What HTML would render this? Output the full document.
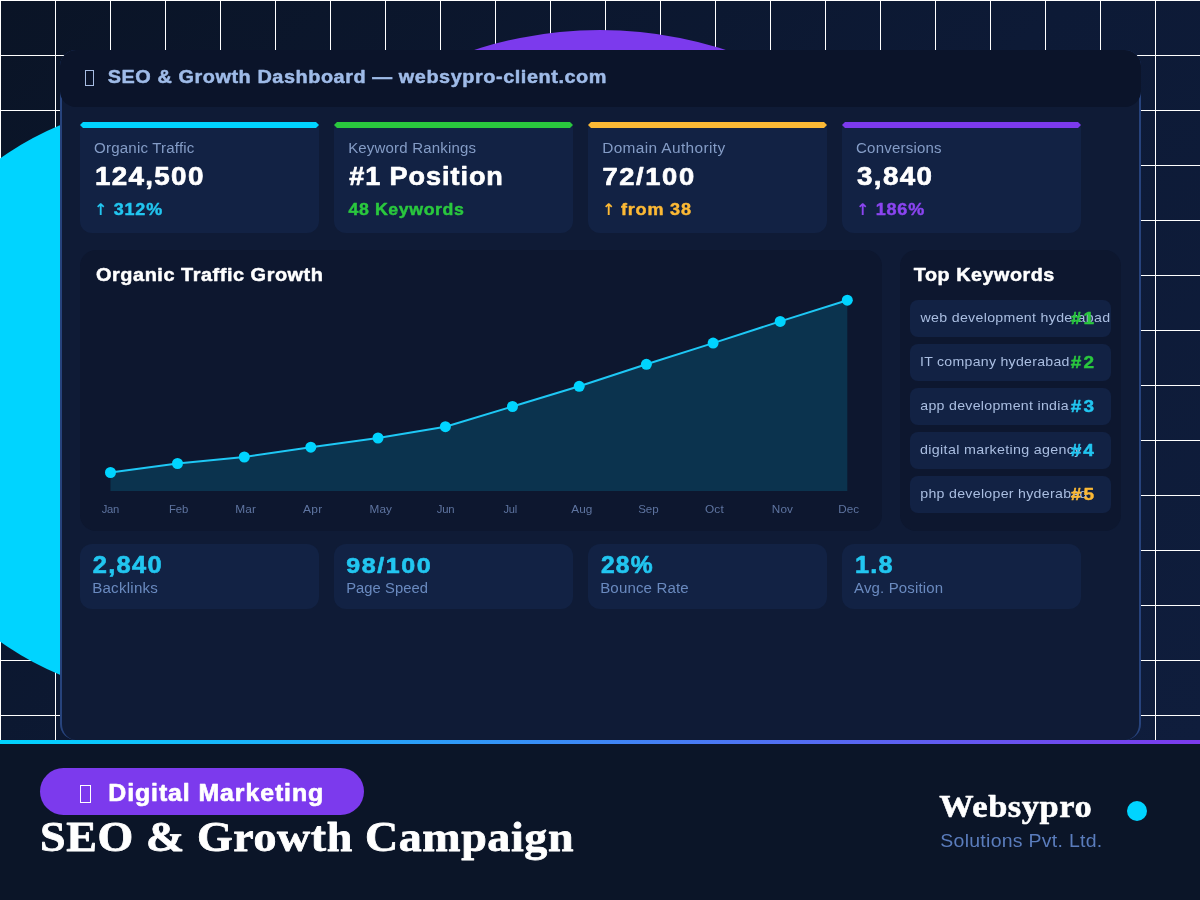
<!DOCTYPE html>
<html><head><meta charset="utf-8"><title>SEO &amp; Growth Campaign</title>
<style>
*{margin:0;padding:0;box-sizing:border-box}
html,body{width:1200px;height:900px;overflow:hidden;background:#0b1528;font-family:"Liberation Sans",sans-serif}
.hero{position:absolute;left:0;top:0;width:1200px;height:740px;overflow:hidden;
 background:linear-gradient(135deg,#0a1426 0%,#0d1a36 55%,#0f1d3c 100%)}
.grid{position:absolute;left:0;top:0;width:1200px;height:740px;
 background-image:linear-gradient(to right,#ffffff 0,#ffffff 1px,transparent 1px),linear-gradient(to bottom,#ffffff 0,#ffffff 1px,transparent 1px);
 background-size:55px 55px}
.c1{position:absolute;left:-124px;top:103px;width:594px;height:594px;border-radius:50%;background:#00d4ff}
.c2{position:absolute;left:190px;top:30px;width:820px;height:820px;border-radius:50%;background:#7c3aed}
.panel{position:absolute;left:60px;top:50px;width:1081px;height:690px;border-radius:16px;background:#0f1b36;border:2px solid #27437c;border-bottom:0}
.hdr{position:absolute;left:60px;top:50px;width:1081px;height:57px;border-radius:16px;background:#0b142a}
.kpi{position:absolute;top:124px;width:239px;height:109px;border-radius:4px 4px 12px 12px;background:#122244}
.kbar{position:absolute;top:122px;width:239px;height:6px;clip-path:polygon(0 50%,3px 0,calc(100% - 3px) 0,100% 50%,calc(100% - 3px) 100%,3px 100%)}
.chart{position:absolute;left:80px;top:250px;width:802px;height:281px;border-radius:16px;background:#0d172f}
.kwp{position:absolute;left:900px;top:250px;width:221px;height:281px;border-radius:16px;background:#0d172f}
.kw{position:absolute;left:910px;width:201px;height:37px;border-radius:8px;background:#122244}
.stat{position:absolute;top:544px;width:239px;height:65px;border-radius:12px;background:#122244}
.bar{position:absolute;left:0;top:740px;width:1200px;height:4px;background:linear-gradient(to right,#00d4ff,#7c3aed)}
.pill{position:absolute;left:40px;top:768px;width:324px;height:47px;border-radius:24px;background:#7c3aed}
.dot{position:absolute;left:1127px;top:801px;width:20px;height:20px;border-radius:50%;background:#00d4ff}
.tofu{position:absolute;border:1.3px solid}
svg{position:absolute;left:0;top:0;will-change:transform}
</style></head><body>
<div class="hero"><div class="grid"></div><div class="c1"></div><div class="c2"></div></div>
<div class="panel"></div>
<div class="hdr"></div>
<div class="tofu" style="left:85px;top:70px;width:9px;height:16px;border-color:#a8bde3"></div>
<div class="kpi" style="left:80px"></div><div class="kbar" style="left:80px;background:#00d4ff"></div><div class="kpi" style="left:334px"></div><div class="kbar" style="left:334px;background:#2ac83e"></div><div class="kpi" style="left:588px"></div><div class="kbar" style="left:588px;background:#fcb935"></div><div class="kpi" style="left:842px"></div><div class="kbar" style="left:842px;background:#7c3aed"></div>
<div class="chart"></div>
<div class="kwp"></div>
<div class="kw" style="top:300px"></div><div class="kw" style="top:344px"></div><div class="kw" style="top:388px"></div><div class="kw" style="top:432px"></div><div class="kw" style="top:476px"></div>
<div class="stat" style="left:80px"></div><div class="stat" style="left:334px"></div><div class="stat" style="left:588px"></div><div class="stat" style="left:842px"></div>
<div class="bar"></div>
<div class="pill"></div>
<div class="tofu" style="left:80px;top:785px;width:11px;height:18px;border-color:#ffffff"></div>
<div class="dot"></div>
<svg width="1200" height="900" viewBox="0 0 1200 900">
<path d="M110.5,491 L110.5,472.5 L177.5,463.5 L244.3,457.0 L310.8,447.2 L378.0,438.0 L445.4,426.7 L512.5,406.5 L579.2,386.3 L646.4,364.3 L713.1,343.1 L780.2,321.4 L847.3,300.2 L847.3,491 Z" fill="#00d4ff" fill-opacity="0.15"/>
<polyline points="110.5,472.5 177.5,463.5 244.3,457.0 310.8,447.2 378.0,438.0 445.4,426.7 512.5,406.5 579.2,386.3 646.4,364.3 713.1,343.1 780.2,321.4 847.3,300.2" fill="none" stroke="#1ec8f5" stroke-width="2" stroke-linejoin="round"/>
<circle cx="110.5" cy="472.5" r="5.5" fill="#00d4ff"/><circle cx="177.5" cy="463.5" r="5.5" fill="#00d4ff"/><circle cx="244.3" cy="457.0" r="5.5" fill="#00d4ff"/><circle cx="310.8" cy="447.2" r="5.5" fill="#00d4ff"/><circle cx="378.0" cy="438.0" r="5.5" fill="#00d4ff"/><circle cx="445.4" cy="426.7" r="5.5" fill="#00d4ff"/><circle cx="512.5" cy="406.5" r="5.5" fill="#00d4ff"/><circle cx="579.2" cy="386.3" r="5.5" fill="#00d4ff"/><circle cx="646.4" cy="364.3" r="5.5" fill="#00d4ff"/><circle cx="713.1" cy="343.1" r="5.5" fill="#00d4ff"/><circle cx="780.2" cy="321.4" r="5.5" fill="#00d4ff"/><circle cx="847.3" cy="300.2" r="5.5" fill="#00d4ff"/>
<text transform="matrix(1.0539 0 0 1 107.72 83.00)" font-family='"Liberation Sans", sans-serif' font-weight="bold" font-size="18.86" letter-spacing="0.534" fill="#9fbbe8" stroke="#9fbbe8" stroke-width="0.50" stroke-linejoin="round">SEO &amp; Growth Dashboard — websypro-client.com</text><text transform="matrix(1.0272 0 0 1 94.11 153.00)" font-family='"Liberation Sans", sans-serif' font-weight="normal" font-size="14.69" letter-spacing="0.178" fill="#849cc6">Organic Traffic</text><text transform="matrix(1.0894 0 0 1 94.92 185.00)" font-family='"Liberation Sans", sans-serif' font-weight="bold" font-size="25.52" letter-spacing="1.224" fill="#ffffff" stroke="#ffffff" stroke-width="0.67" stroke-linejoin="round">124,500</text><path d="M789 1500H929L1322 1107L1177 962L979 1160V0H739V1160L541 962L396 1107Z" fill="#22c6f0" transform="translate(94.00,215.00) scale(0.00781,-0.00781)"/><text transform="matrix(1.0600 0 0 1 113.64 215.00)" font-family='"Liberation Sans", sans-serif' font-weight="bold" font-size="16.98" letter-spacing="0.806" fill="#22c6f0" stroke="#22c6f0" stroke-width="0.45" stroke-linejoin="round">312%</text><text transform="matrix(1.0223 0 0 1 348.16 153.00)" font-family='"Liberation Sans", sans-serif' font-weight="normal" font-size="14.69" letter-spacing="0.175" fill="#849cc6">Keyword Rankings</text><text transform="matrix(1.0722 0 0 1 349.16 185.00)" font-family='"Liberation Sans", sans-serif' font-weight="bold" font-size="25.21" letter-spacing="0.892" fill="#ffffff" stroke="#ffffff" stroke-width="0.67" stroke-linejoin="round">#1 Position</text><text transform="matrix(1.0586 0 0 1 348.49 215.00)" font-family='"Liberation Sans", sans-serif' font-weight="bold" font-size="16.77" letter-spacing="0.567" fill="#2ac83e" stroke="#2ac83e" stroke-width="0.45" stroke-linejoin="round">48 Keywords</text><text transform="matrix(1.0506 0 0 1 602.13 153.00)" font-family='"Liberation Sans", sans-serif' font-weight="normal" font-size="14.69" letter-spacing="0.355" fill="#849cc6">Domain Authority</text><text transform="matrix(1.1109 0 0 1 602.44 185.00)" font-family='"Liberation Sans", sans-serif' font-weight="bold" font-size="24.60" letter-spacing="1.463" fill="#ffffff" stroke="#ffffff" stroke-width="0.67" stroke-linejoin="round">72/100</text><path d="M789 1500H929L1322 1107L1177 962L979 1160V0H739V1160L541 962L396 1107Z" fill="#fcb935" transform="translate(602.00,215.00) scale(0.00781,-0.00781)"/><text transform="matrix(1.0785 0 0 1 620.95 215.00)" font-family='"Liberation Sans", sans-serif' font-weight="bold" font-size="16.77" letter-spacing="0.724" fill="#fcb935" stroke="#fcb935" stroke-width="0.45" stroke-linejoin="round">from 38</text><text transform="matrix(1.0245 0 0 1 856.04 153.00)" font-family='"Liberation Sans", sans-serif' font-weight="normal" font-size="14.69" letter-spacing="0.192" fill="#849cc6">Conversions</text><text transform="matrix(1.0879 0 0 1 857.01 185.00)" font-family='"Liberation Sans", sans-serif' font-weight="bold" font-size="25.52" letter-spacing="1.257" fill="#ffffff" stroke="#ffffff" stroke-width="0.67" stroke-linejoin="round">3,840</text><path d="M789 1500H929L1322 1107L1177 962L979 1160V0H739V1160L541 962L396 1107Z" fill="#8b45f0" transform="translate(856.00,215.00) scale(0.00781,-0.00781)"/><text transform="matrix(1.0603 0 0 1 875.66 215.00)" font-family='"Liberation Sans", sans-serif' font-weight="bold" font-size="16.98" letter-spacing="0.796" fill="#8b45f0" stroke="#8b45f0" stroke-width="0.45" stroke-linejoin="round">186%</text><text transform="matrix(1.0558 0 0 1 96.08 281.00)" font-family='"Liberation Sans", sans-serif' font-weight="bold" font-size="18.86" letter-spacing="0.510" fill="#ffffff" stroke="#ffffff" stroke-width="0.50" stroke-linejoin="round">Organic Traffic Growth</text><text transform="matrix(1.0465 0 0 1 913.87 281.00)" font-family='"Liberation Sans", sans-serif' font-weight="bold" font-size="18.86" letter-spacing="0.516" fill="#ffffff" stroke="#ffffff" stroke-width="0.50" stroke-linejoin="round">Top Keywords</text><text transform="matrix(0.9683 0 0 1 101.76 513.00)" font-family='"Liberation Sans", sans-serif' font-weight="normal" font-size="11.64" letter-spacing="-0.290" fill="#5e74a0">Jan</text><text transform="matrix(0.9831 0 0 1 169.07 513.00)" font-family='"Liberation Sans", sans-serif' font-weight="normal" font-size="11.52" letter-spacing="-0.159" fill="#5e74a0">Feb</text><text transform="matrix(1.0215 0 0 1 235.20 513.00)" font-family='"Liberation Sans", sans-serif' font-weight="normal" font-size="11.64" letter-spacing="0.199" fill="#5e74a0">Mar</text><text transform="matrix(1.0280 0 0 1 303.10 513.00)" font-family='"Liberation Sans", sans-serif' font-weight="normal" font-size="11.64" letter-spacing="0.243" fill="#5e74a0">Apr</text><text transform="matrix(1.0104 0 0 1 369.57 513.00)" font-family='"Liberation Sans", sans-serif' font-weight="normal" font-size="11.64" letter-spacing="0.108" fill="#5e74a0">May</text><text transform="matrix(0.9736 0 0 1 436.71 513.00)" font-family='"Liberation Sans", sans-serif' font-weight="normal" font-size="11.64" letter-spacing="-0.241" fill="#5e74a0">Jun</text><text transform="matrix(0.9636 0 0 1 503.44 513.00)" font-family='"Liberation Sans", sans-serif' font-weight="normal" font-size="11.52" letter-spacing="-0.259" fill="#5e74a0">Jul</text><text transform="matrix(1.0126 0 0 1 571.15 513.00)" font-family='"Liberation Sans", sans-serif' font-weight="normal" font-size="11.64" letter-spacing="0.123" fill="#5e74a0">Aug</text><text transform="matrix(0.9921 0 0 1 638.25 513.00)" font-family='"Liberation Sans", sans-serif' font-weight="normal" font-size="11.63" letter-spacing="-0.079" fill="#5e74a0">Sep</text><text transform="matrix(1.0197 0 0 1 704.96 513.00)" font-family='"Liberation Sans", sans-serif' font-weight="normal" font-size="11.63" letter-spacing="0.169" fill="#5e74a0">Oct</text><text transform="matrix(1.0095 0 0 1 771.82 513.00)" font-family='"Liberation Sans", sans-serif' font-weight="normal" font-size="11.64" letter-spacing="0.093" fill="#5e74a0">Nov</text><text transform="matrix(1.0032 0 0 1 838.28 513.00)" font-family='"Liberation Sans", sans-serif' font-weight="normal" font-size="11.64" letter-spacing="0.031" fill="#5e74a0">Dec</text><text transform="matrix(1.0433 0 0 1 920.56 321.60)" font-family='"Liberation Sans", sans-serif' font-weight="normal" font-size="13.60" letter-spacing="0.301" fill="#aabee1">web development hyderabad</text><text transform="matrix(1.1172 0 0 1 1070.71 324.00)" font-family='"Liberation Sans", sans-serif' font-weight="bold" font-size="17.00" letter-spacing="1.902" fill="#2ac83e" stroke="#2ac83e" stroke-width="0.45" stroke-linejoin="round">#1</text><text transform="matrix(1.0386 0 0 1 919.95 365.60)" font-family='"Liberation Sans", sans-serif' font-weight="normal" font-size="13.60" letter-spacing="0.268" fill="#aabee1">IT company hyderabad</text><text transform="matrix(1.1189 0 0 1 1070.71 368.00)" font-family='"Liberation Sans", sans-serif' font-weight="bold" font-size="16.98" letter-spacing="1.899" fill="#2ac83e" stroke="#2ac83e" stroke-width="0.45" stroke-linejoin="round">#2</text><text transform="matrix(1.0428 0 0 1 920.23 409.60)" font-family='"Liberation Sans", sans-serif' font-weight="normal" font-size="13.60" letter-spacing="0.280" fill="#aabee1">app development india</text><text transform="matrix(1.1202 0 0 1 1070.71 412.00)" font-family='"Liberation Sans", sans-serif' font-weight="bold" font-size="16.98" letter-spacing="1.925" fill="#22c6f0" stroke="#22c6f0" stroke-width="0.45" stroke-linejoin="round">#3</text><text transform="matrix(1.0506 0 0 1 920.10 453.60)" font-family='"Liberation Sans", sans-serif' font-weight="normal" font-size="13.60" letter-spacing="0.306" fill="#aabee1">digital marketing agency</text><text transform="matrix(1.1149 0 0 1 1070.71 456.00)" font-family='"Liberation Sans", sans-serif' font-weight="bold" font-size="17.00" letter-spacing="1.906" fill="#22c6f0" stroke="#22c6f0" stroke-width="0.45" stroke-linejoin="round">#4</text><text transform="matrix(1.0423 0 0 1 920.28 497.60)" font-family='"Liberation Sans", sans-serif' font-weight="normal" font-size="13.60" letter-spacing="0.282" fill="#aabee1">php developer hyderabad</text><text transform="matrix(1.1172 0 0 1 1070.71 500.00)" font-family='"Liberation Sans", sans-serif' font-weight="bold" font-size="17.00" letter-spacing="1.902" fill="#fcb935" stroke="#fcb935" stroke-width="0.45" stroke-linejoin="round">#5</text><text transform="matrix(1.0901 0 0 1 92.86 572.50)" font-family='"Liberation Sans", sans-serif' font-weight="bold" font-size="23.34" letter-spacing="1.168" fill="#22c6f0" stroke="#22c6f0" stroke-width="0.62" stroke-linejoin="round">2,840</text><text transform="matrix(1.0306 0 0 1 92.15 592.70)" font-family='"Liberation Sans", sans-serif' font-weight="normal" font-size="14.69" letter-spacing="0.224" fill="#6a8abf">Backlinks</text><text transform="matrix(1.1136 0 0 1 346.29 572.50)" font-family='"Liberation Sans", sans-serif' font-weight="bold" font-size="22.52" letter-spacing="1.369" fill="#22c6f0" stroke="#22c6f0" stroke-width="0.62" stroke-linejoin="round">98/100</text><text transform="matrix(1.0056 0 0 1 346.18 592.70)" font-family='"Liberation Sans", sans-serif' font-weight="normal" font-size="14.69" letter-spacing="0.048" fill="#6a8abf">Page Speed</text><text transform="matrix(1.0552 0 0 1 600.89 572.50)" font-family='"Liberation Sans", sans-serif' font-weight="bold" font-size="23.34" letter-spacing="1.185" fill="#22c6f0" stroke="#22c6f0" stroke-width="0.62" stroke-linejoin="round">28%</text><text transform="matrix(1.0175 0 0 1 600.17 592.70)" font-family='"Liberation Sans", sans-serif' font-weight="normal" font-size="14.82" letter-spacing="0.144" fill="#6a8abf">Bounce Rate</text><text transform="matrix(1.0818 0 0 1 854.88 572.50)" font-family='"Liberation Sans", sans-serif' font-weight="bold" font-size="23.34" letter-spacing="1.141" fill="#22c6f0" stroke="#22c6f0" stroke-width="0.62" stroke-linejoin="round">1.8</text><text transform="matrix(1.0211 0 0 1 854.06 592.70)" font-family='"Liberation Sans", sans-serif' font-weight="normal" font-size="14.69" letter-spacing="0.145" fill="#6a8abf">Avg. Position</text><text transform="matrix(1.0797 0 0 1 108.31 800.80)" font-family='"Liberation Sans", sans-serif' font-weight="bold" font-size="23.04" letter-spacing="0.843" fill="#ffffff" stroke="#ffffff" stroke-width="0.62" stroke-linejoin="round">Digital Marketing</text><text transform="matrix(1.1046 0 0 1 40.08 851.25)" font-family='"Liberation Serif", serif' font-weight="bold" font-size="41.60" letter-spacing="0.556" fill="#ffffff" stroke="#ffffff" stroke-width="0.76" stroke-linejoin="round">SEO &amp; Growth Campaign</text><text transform="matrix(1.1237 0 0 1 939.26 816.60)" font-family='"Liberation Serif", serif' font-weight="bold" font-size="30.61" letter-spacing="0.513" fill="#ffffff" stroke="#ffffff" stroke-width="0.56" stroke-linejoin="round">Websypro</text><text transform="matrix(1.0334 0 0 1 940.28 846.70)" font-family='"Liberation Sans", sans-serif' font-weight="normal" font-size="18.86" letter-spacing="0.269" fill="#5a7cbc">Solutions Pvt. Ltd.</text>
</svg>
</body></html>
